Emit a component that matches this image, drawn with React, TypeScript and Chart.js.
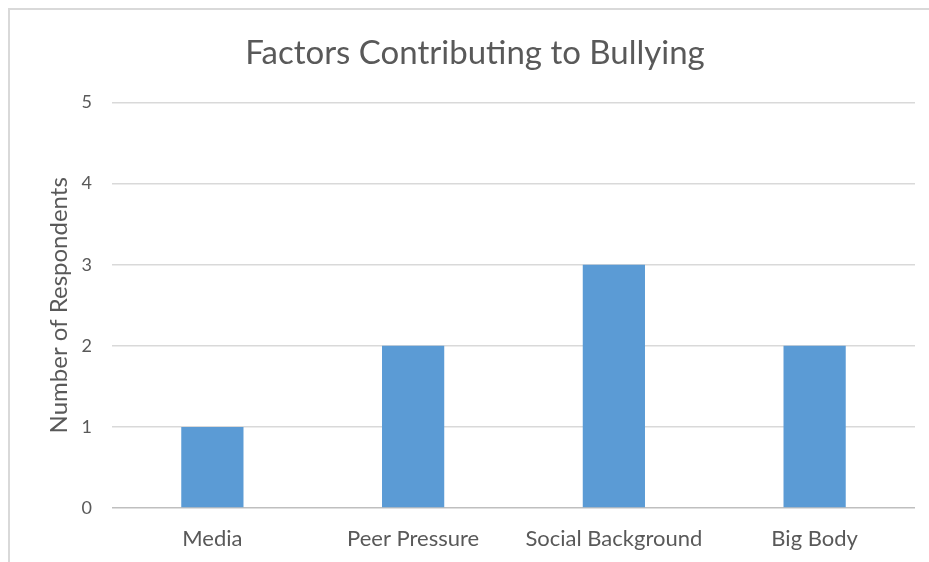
import React, { useEffect, useRef } from "react";
import { Chart, registerables } from "chart.js";

Chart.register(...registerables);

const categories = ["Media", "Peer Pressure", "Social Background", "Big Body"];
const respondents = [1, 2, 3, 2];
const yTicks = [0, 1, 2, 3, 4, 5];
const chartTitle = "Factors Contributing to Bullying";
const yAxisTitle = "Number of Respondents";

const FONT = "Lato, 'Open Sans', sans-serif";
const TEXT = "#595959";

export default function App() {
  const ref = useRef<HTMLCanvasElement | null>(null);

  useEffect(() => {
    document.documentElement.style.overflow = "hidden";
    document.body.style.overflow = "hidden";
    const canvas = ref.current;
    if (!canvas) return;
    const chart = new Chart(canvas, {
      type: "bar",
      data: {
        labels: categories,
        datasets: [
          {
            data: respondents,
            backgroundColor: "#5b9bd5",
            borderWidth: 0,
            barPercentage: 0.31,
            categoryPercentage: 1,
            yAxisID: "y",
          },
        ],
      },
      options: {
        animation: false,
        responsive: false,
        devicePixelRatio: 1,
        layout: { padding: 0 },
        plugins: {
          legend: { display: false },
          tooltip: { enabled: false },
          title: {
            display: true,
            text: chartTitle,
            color: TEXT,
            font: { family: FONT, size: 33, weight: "normal" },
            padding: { top: 24, bottom: 29 },
          },
        },
        scales: {
          x: {
            grid: { display: false, drawTicks: false },
            border: { display: false },
            ticks: {
              color: TEXT,
              font: { family: FONT, size: 22 },
              padding: 18,
              maxRotation: 0,
            },
            afterFit: (s: any) => {
              s.height = 54;
            },
          },
          y: {
            min: 0,
            max: 5,
            afterBuildTicks: (s: any) => {
              s.ticks = yTicks.map((v) => ({ value: v }));
            },
            grid: {
              color: (ctx: any) => (ctx.tick && ctx.tick.value === 0 ? "#bfbfbf" : "#d9d9d9"),
              lineWidth: 1.5,
              drawTicks: false,
            },
            border: { display: false },
            ticks: {
              color: TEXT,
              font: { family: FONT, size: 18 },
              padding: 20,
            },
            title: {
              display: true,
              text: yAxisTitle,
              color: TEXT,
              font: { family: FONT, size: 24 },
              padding: { top: 35, bottom: 0 },
            },
            afterFit: (s: any) => {
              s.width = 102;
            },
          },
          spacer: {
            type: "linear",
            position: "right",
            display: true,
            grid: { display: false, drawTicks: false },
            border: { display: false },
            ticks: { display: false },
            afterFit: (s: any) => {
              s.width = 25;
            },
          },
        },
      },
    });
    return () => chart.destroy();
  }, []);

  return (
    <div
      style={{
        position: "fixed",
        left: 8,
        top: 8,
        width: 921,
        height: 554,
        overflow: "hidden",
        boxSizing: "border-box",
        borderLeft: "2px solid #d9d9d9",
        borderTop: "2px solid #d9d9d9",
        background: "#fff",
      }}
    >
      <canvas ref={ref} width={930} height={552} style={{ display: "block" }} />
    </div>
  );
}
